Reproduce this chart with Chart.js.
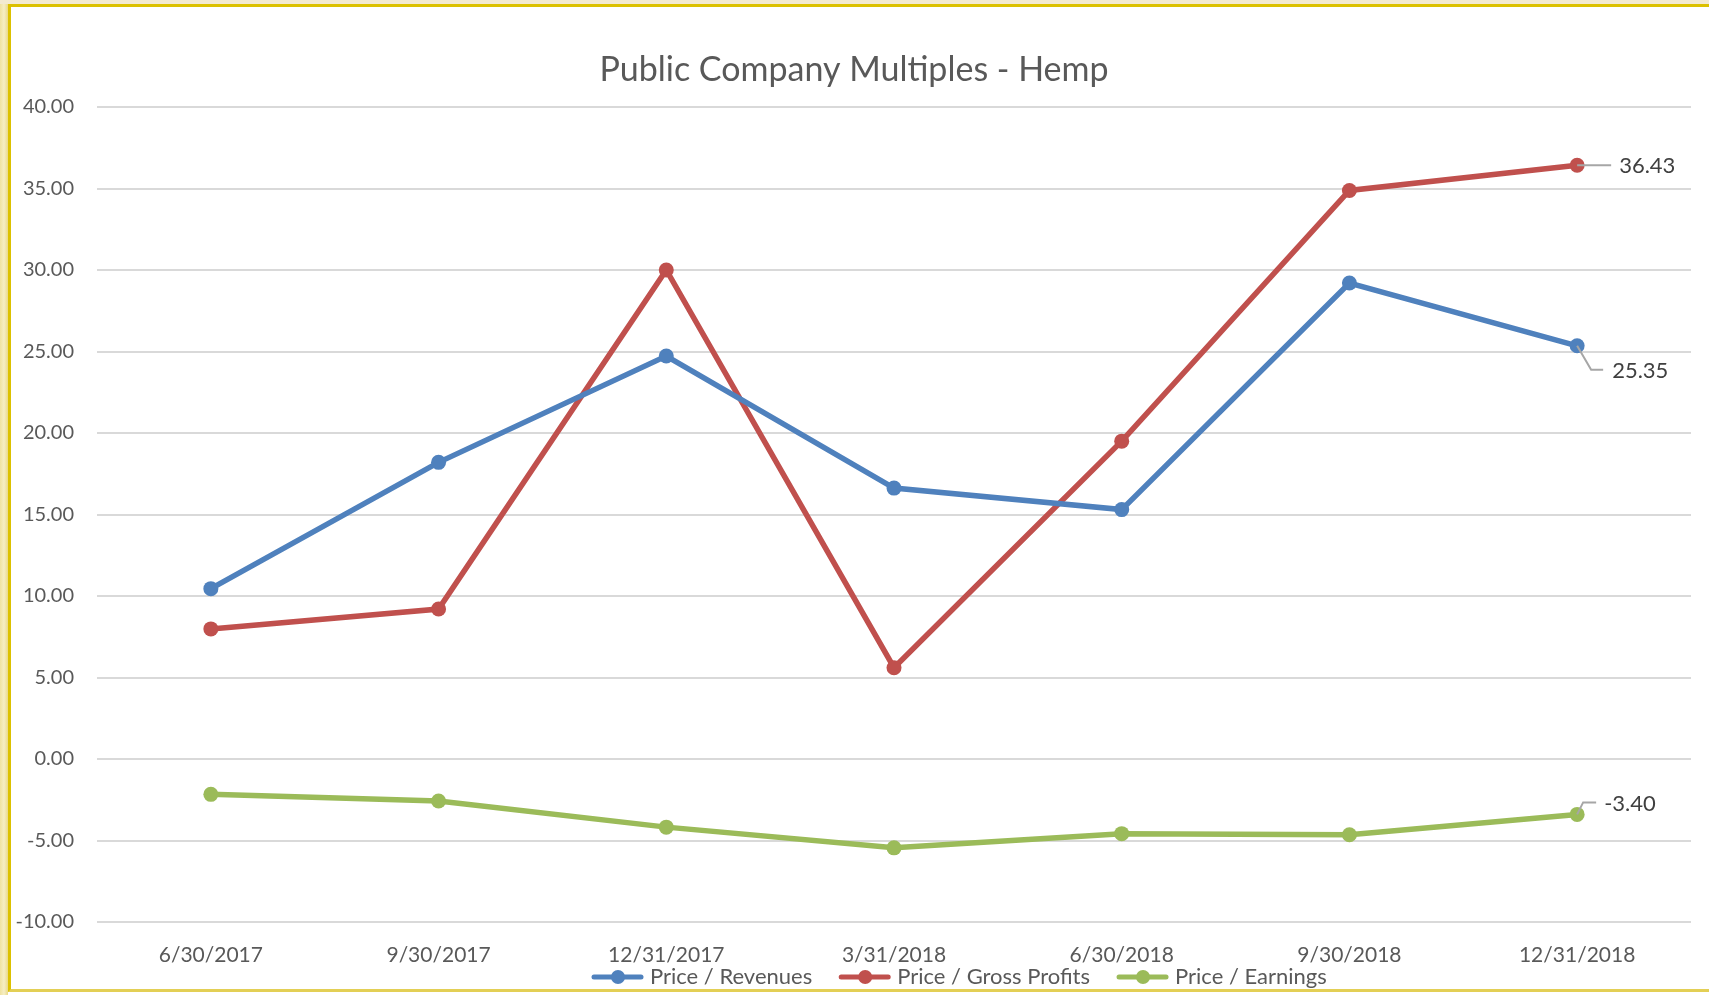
<!DOCTYPE html>
<html>
<head>
<meta charset="utf-8">
<script src="https://cdn.jsdelivr.net/npm/chart.js@4.4.1/dist/chart.umd.min.js"></script>
<style>
  html, body { margin: 0; padding: 0; }
  body {
    width: 1709px; height: 995px; overflow: hidden; position: relative;
    background: linear-gradient(90deg, #efe2a0 0px, #f6eec4 4px, #e9d98a 8px, #ffffff 8px);
  }
  #frame {
    position: absolute; left: 8px; top: 4px; width: 1701px; height: 988px;
    background: #ffffff;
    border-left: 3px solid #dcc100;
    border-top: 3px solid #dcc100;
    border-bottom: 3px solid #e3cf55;
    box-sizing: border-box;
  }
  #topstrip { position: absolute; left: 0; top: 0; width: 1709px; height: 4px; background: #f3ead0; }
  canvas { position: absolute; left: 11px; top: 8px; }
</style>
</head>
<body>
<div id="topstrip"></div>
<div id="frame"></div>
<canvas id="chart" width="1698" height="984"></canvas>
<script>
// data
const quarters = ['6/30/2017', '9/30/2017', '12/31/2017', '3/31/2018', '6/30/2018', '9/30/2018', '12/31/2018'];
const priceRevenues = [10.45, 18.2, 24.72, 16.62, 15.3, 29.2, 25.35];
const priceGrossProfits = [7.98, 9.2, 30.0, 5.6, 19.5, 34.88, 36.43];
const priceEarnings = [-2.17, -2.58, -4.18, -5.45, -4.58, -4.65, -3.40];
const seriesNames = ['Price / Revenues', 'Price / Gross Profits', 'Price / Earnings'];
const seriesColors = ['#4f81bd', '#c0504d', '#9bbb59'];
const yTicks = { min: -10, max: 40, step: 5 };
const chartTitle = 'Public Company Multiples - Hemp';

const FONT = 'Lato, "Open Sans", sans-serif';
const TEXT = '#595959';

// title + legend + end-of-line labels
const decorations = {
  id: 'decorations',
  afterDatasetsDraw(chart) {
    const ctx = chart.ctx;
    ctx.save();

    // labels on last points with small leader lines
    const last = quarters.length - 1;
    const offsets = [
      { dx: 14, dy: 24, seg: 12, tx: 35 },
      { dx: 0, dy: 0, seg: 34, tx: 42 },
      { dx: 6, dy: -12, seg: 13, tx: 27 }
    ];
    chart.data.datasets.forEach((ds, i) => {
      const pt = chart.getDatasetMeta(i).data[last];
      const o = offsets[i];
      ctx.strokeStyle = '#a6a6a6';
      ctx.lineWidth = 2;
      ctx.beginPath();
      ctx.moveTo(pt.x, pt.y);
      ctx.lineTo(pt.x + o.dx, pt.y + o.dy);
      ctx.lineTo(pt.x + o.dx + o.seg, pt.y + o.dy);
      ctx.stroke();
      ctx.fillStyle = '#404040';
      ctx.font = '22px ' + FONT;
      ctx.textAlign = 'left';
      ctx.textBaseline = 'middle';
      ctx.fillText(ds.data[last].toFixed(2), pt.x + o.tx, pt.y + o.dy + 1);
    });
    ctx.restore();
  },
  afterDraw(chart) {
    const ctx = chart.ctx;
    ctx.save();
    ctx.fillStyle = TEXT;
    ctx.font = '34px ' + FONT;
    ctx.textAlign = 'center';
    ctx.textBaseline = 'middle';
    ctx.fillText(chartTitle, 843, 62);

    // legend
    ctx.font = '22px ' + FONT;
    ctx.textAlign = 'left';
    let x = 581;
    const y = 969;
    chart.data.datasets.forEach((ds, i) => {
      ctx.strokeStyle = ds.borderColor;
      ctx.lineWidth = 5;
      ctx.lineCap = 'round';
      ctx.beginPath();
      ctx.moveTo(x + 2, y);
      ctx.lineTo(x + 49, y);
      ctx.stroke();
      ctx.fillStyle = ds.borderColor;
      ctx.beginPath();
      ctx.arc(x + 26, y, 7, 0, Math.PI * 2);
      ctx.fill();
      ctx.fillStyle = TEXT;
      ctx.fillText(ds.label, x + 58, y);
      x += 58 + ctx.measureText(ds.label).width + 27;
    });
    ctx.restore();
  }
};

const makeSet = (i, data) => ({
  label: seriesNames[i],
  data: data,
  borderColor: seriesColors[i],
  backgroundColor: seriesColors[i],
  borderWidth: 5.5,
  pointRadius: 7.5,
  pointHoverRadius: 7.5,
  pointBorderWidth: 0,
  tension: 0
});

new Chart(document.getElementById('chart'), {
  type: 'line',
  data: {
    labels: quarters,
    datasets: [
      makeSet(0, priceRevenues),
      makeSet(1, priceGrossProfits),
      makeSet(2, priceEarnings)
    ]
  },
  options: {
    responsive: false,
    animation: false,
    layout: { padding: { top: 99, right: 18, left: 0, bottom: 0 } },
    plugins: {
      legend: { display: false },
      title: { display: false },
      tooltip: { enabled: false }
    },
    scales: {
      x: {
        offset: true,
        grid: { display: false },
        border: { display: false },
        ticks: { color: TEXT, font: { family: FONT, size: 21 }, padding: 13, maxRotation: 0 },
        afterFit(scale) { scale.height = 70; }
      },
      y: {
        min: yTicks.min,
        max: yTicks.max,
        border: { display: false },
        grid: { color: '#d9d9d9', lineWidth: 2, drawTicks: false },
        ticks: {
          stepSize: yTicks.step,
          color: TEXT,
          font: { family: FONT, size: 20 },
          padding: 23,
          callback: v => v.toFixed(2)
        },
        afterFit(scale) { scale.width = 86; }
      }
    }
  },
  plugins: [decorations]
});
</script>
</body>
</html>
